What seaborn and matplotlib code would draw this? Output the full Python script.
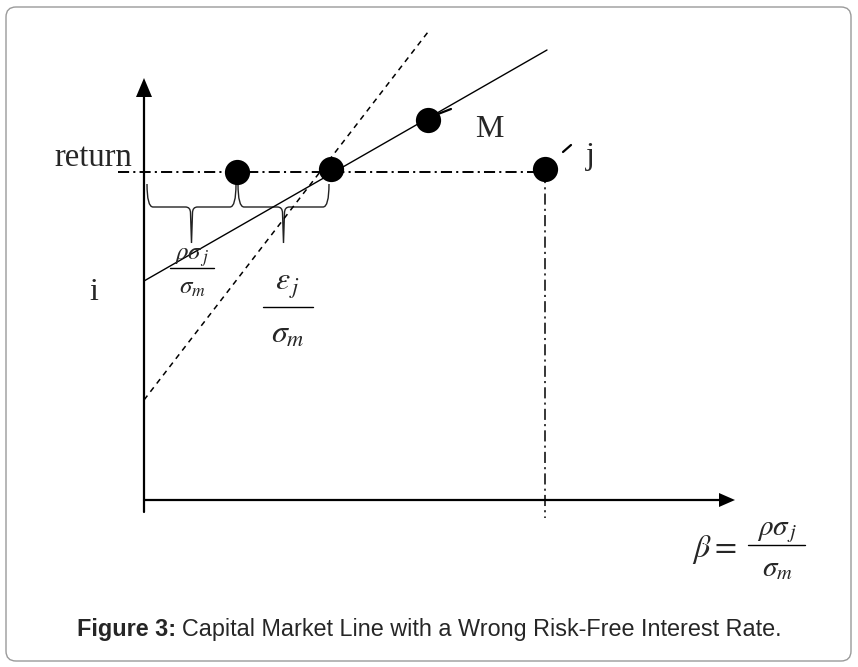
"""Capital Market Line with a wrong risk-free interest rate (diagram recreation)."""

import matplotlib
matplotlib.use("Agg")
import matplotlib.pyplot as plt
import numpy as np
import pandas as pd
import seaborn as sns
from matplotlib.patches import FancyBboxPatch, Polygon
from matplotlib.path import Path
from matplotlib.patches import PathPatch

# --- diagram data (pixel space of the original figure, y grows downward) ---
axis_origin = (144, 500)
y_axis_top = 80
x_axis_right = 735

cml_x = [144, 547]          # solid capital market line
cml_y = [281, 50]
wrong_x = [144, 428]        # dashed line from the wrong risk-free rate
wrong_y = [400, 32]
return_x = [118, 545]       # dash-dot "return" level
return_y = [172, 172]
beta_x = [545, 545]         # dash-dot drop to the beta axis
beta_y = [172, 518]

point_names = ["a", "b", "M", "j"]
point_x = [237, 331, 428, 545]
point_y = [172, 169, 120, 169]

tail_m_x = [438, 451]
tail_m_y = [114, 109]
tail_j_x = [563, 571]
tail_j_y = [152, 145]

brace_left = [147, 238]
brace_right = [236, 329]

caption_bold = "Figure 3:"
caption_text = "Capital Market Line with a Wrong Risk-Free Interest Rate."

sns.set_theme(style="white")
plt.rcParams["lines.scale_dashes"] = False
plt.rcParams["mathtext.fontset"] = "stix"
SERIF = ["Liberation Serif", "DejaVu Serif"]
SANS = ["Liberation Sans", "DejaVu Sans"]

fig = plt.figure(figsize=(8.58, 6.67), dpi=100)
ax = fig.add_axes([0, 0, 1, 1])
ax.set_xlim(0, 858)
ax.set_ylim(667, 0)
ax.axis("off")

# outer frame
ax.add_patch(FancyBboxPatch((6, 7), 845, 654, boxstyle="round,pad=0,rounding_size=10",
                            fc="white", ec="#9a9a9a", lw=1.0, zorder=0))

# axes with arrow heads
ox, oy = axis_origin
ax.plot([ox, ox], [512, y_axis_top + 12], color="black", lw=1.6)
ax.plot([ox, x_axis_right - 12], [oy, oy], color="black", lw=1.6)
ax.add_patch(Polygon([[ox - 8, y_axis_top + 17], [ox + 8, y_axis_top + 17], [ox, y_axis_top - 2]],
                     closed=True, color="black", lw=0))
ax.add_patch(Polygon([[x_axis_right - 16, oy - 7], [x_axis_right - 16, oy + 7], [x_axis_right, oy]],
                     closed=True, color="black", lw=0))

# lines
DASHDOT = (0, (8, 3, 1.5, 3))
line_kw = dict(ax=ax, color="black", sort=False, estimator=None)
lines = pd.DataFrame({"x": cml_x, "y": cml_y})
sns.lineplot(data=lines, x="x", y="y", lw=1.0, **line_kw)
sns.lineplot(x=wrong_x, y=wrong_y, lw=1.1, linestyle=(0, (4, 3.5)), **line_kw)
sns.lineplot(x=return_x, y=return_y, lw=1.4, linestyle=DASHDOT, **line_kw)
sns.lineplot(x=beta_x, y=beta_y, lw=1.1, linestyle=DASHDOT, **line_kw)
sns.lineplot(x=tail_m_x, y=tail_m_y, lw=1.6, **line_kw)
sns.lineplot(x=tail_j_x, y=tail_j_y, lw=1.6, **line_kw)

# points
pts = pd.DataFrame({"name": point_names, "x": point_x, "y": point_y})
sns.scatterplot(data=pts, x="x", y="y", ax=ax, color="black", s=330, edgecolor="black",
                linewidth=0, zorder=5, legend=False)


def brace(x0, x1, y_top=184, y_bar=207, y_tip=243, r=6):
    xm = (x0 + x1) / 2
    verts = [(x0, y_top), (x0, y_bar), (x0 + r, y_bar),
             (xm - r, y_bar), (xm - 1, y_bar), (xm - 1, y_bar + r),
             (xm, y_tip),
             (xm + 1, y_bar + r), (xm + 1, y_bar), (xm + r, y_bar),
             (x1 - r, y_bar), (x1, y_bar), (x1, y_top)]
    codes = [Path.MOVETO, Path.CURVE3, Path.CURVE3,
             Path.LINETO, Path.CURVE3, Path.CURVE3,
             Path.LINETO,
             Path.LINETO, Path.CURVE3, Path.CURVE3,
             Path.LINETO, Path.CURVE3, Path.CURVE3]
    ax.add_patch(PathPatch(Path(verts, codes), fc="none", ec="#222222", lw=1.0))


for a, b in zip(brace_left, brace_right):
    brace(a, b)

# labels
ax.text(54, 166, "return", family=SERIF, fontsize=23.5, va="baseline", ha="left")
ax.text(89, 300, "i", family=SERIF, fontsize=23, va="baseline", ha="left")
ax.text(475, 137, "M", family=SERIF, fontsize=23, va="baseline", ha="left")
ax.text(586, 164, "j", family=SERIF, fontsize=23, va="baseline", ha="left")


def fraction(xc, y_bar, x0, x1, num, den, size, num_dy, den_dy):
    ax.plot([x0, x1], [y_bar, y_bar], color="black", lw=1.0)
    ax.text(xc, y_bar - num_dy, num, fontsize=size, ha="center", va="baseline")
    ax.text(xc, y_bar + den_dy, den, fontsize=size, ha="center", va="baseline")


fraction(192, 268, 170, 214, r"$\rho\sigma_{\,j}$", r"$\sigma_m$", 18, 8, 26)
fraction(288, 307, 263, 313, r"$\varepsilon_{\,j}$", r"$\sigma_m$", 23, 17, 36)
fraction(777, 545, 748, 805, r"$\rho\sigma_{\,j}$", r"$\sigma_m$", 21, 10, 31)
ax.text(692, 557, r"$\beta =$", fontsize=23, ha="left", va="baseline")

# caption with bold lead-in, centred as a whole
fig.canvas.draw()
renderer = fig.canvas.get_renderer()
lead = ax.text(0, 636, caption_bold, family=SANS, fontsize=16.8, weight="bold",
               ha="left", va="baseline")
rest = ax.text(0, 636, caption_text, family=SANS, fontsize=16.8, ha="left", va="baseline")
w_lead = lead.get_window_extent(renderer).width
w_rest = rest.get_window_extent(renderer).width
gap = 6
x_start = 429 - (w_lead + gap + w_rest) / 2
lead.set_x(x_start)
rest.set_x(x_start + w_lead + gap)

fig.savefig("out.png", dpi=100)
